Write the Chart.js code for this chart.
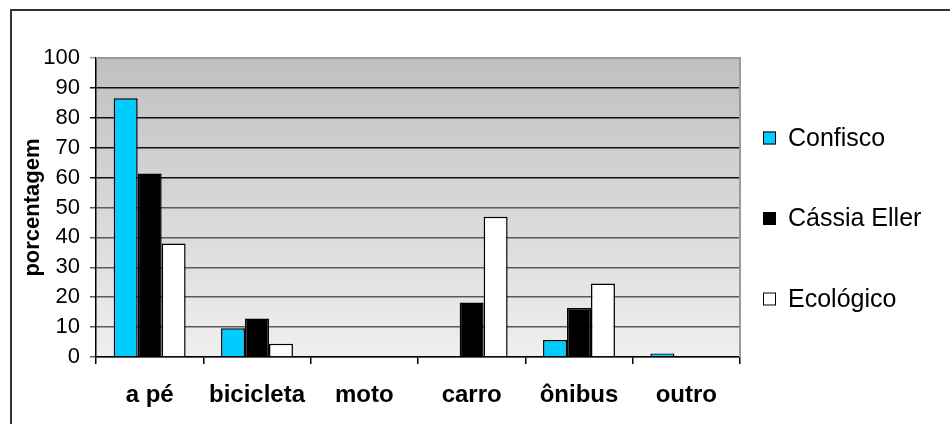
<!DOCTYPE html>
<html>
<head>
<meta charset="utf-8">
<script src="https://cdn.jsdelivr.net/npm/chart.js@4/dist/chart.umd.min.js"></script>
<style>
  html, body { margin: 0; padding: 0; background: #ffffff; }
  #wrap { width: 950px; height: 424px; }
</style>
</head>
<body>
<div id="wrap"><canvas id="c" width="950" height="424"></canvas></div>
<script>
// Modo de deslocamento por bairro (%)
const categories = ['a pé', 'bicicleta', 'moto', 'carro', 'ônibus', 'outro'];
const confisco    = [86.5, 9.6, 0, 0, 5.7, 1.2];
const cassiaEller = [61.4, 12.9, 0, 18.2, 16.4, 0];
const ecologico   = [38.0, 4.4, 0, 46.9, 24.6, 0];
const seriesNames = ['Confisco', 'Cássia Eller', 'Ecológico'];
const yMin = 0, yMax = 100, yStep = 10;
const yTitle = 'porcentagem';

const FONT = '"Liberation Sans", Arial, Helvetica, sans-serif';

// Background, outer frame and plot-area gradient
const backdrop = {
  id: 'backdrop',
  beforeDraw(chart) {
    const { ctx, chartArea: a } = chart;
    ctx.save();
    ctx.fillStyle = '#ffffff';
    ctx.fillRect(0, 0, chart.width, chart.height);
    const g = ctx.createLinearGradient(0, a.top, 0, a.bottom);
    g.addColorStop(0, '#c0c0c0');
    g.addColorStop(1, '#efefef');
    ctx.fillStyle = g;
    ctx.fillRect(a.left, a.top, a.right - a.left, a.bottom - a.top);
    // frame (top and left edges)
    ctx.strokeStyle = '#333333';
    ctx.lineWidth = 2;
    ctx.beginPath();
    ctx.moveTo(chart.width, 10);
    ctx.lineTo(11, 10);
    ctx.lineTo(11, chart.height);
    ctx.stroke();
    ctx.restore();
  },
  afterDatasetsDraw(chart) {
    const { ctx, chartArea: a } = chart;
    ctx.save();
    ctx.strokeStyle = '#9a9a9a';
    ctx.lineWidth = 2;
    ctx.beginPath();
    ctx.moveTo(a.left, a.top);
    ctx.lineTo(a.right, a.top);
    ctx.lineTo(a.right, a.bottom);
    ctx.stroke();
    ctx.restore();
  }
};

// Legend drawn from the datasets
const sideLegend = {
  id: 'sideLegend',
  afterDraw(chart) {
    const { ctx } = chart;
    ctx.save();
    ctx.font = '25px ' + FONT;
    ctx.textBaseline = 'middle';
    ctx.textAlign = 'left';
    chart.data.datasets.forEach((ds, i) => {
      const y = 138 + i * 80.5;
      ctx.fillStyle = ds.backgroundColor;
      ctx.fillRect(763, y - 6.5, 13, 13);
      ctx.strokeStyle = '#000000';
      ctx.lineWidth = 1;
      ctx.strokeRect(763.5, y - 6, 12, 12);
      ctx.fillStyle = '#000000';
      ctx.fillText(ds.label, 788, y + 1);
    });
    ctx.restore();
  }
};

const colors = ['#00ccff', '#000000', '#ffffff'];
const series = [confisco, cassiaEller, ecologico];

new Chart(document.getElementById('c'), {
  type: 'bar',
  data: {
    labels: categories,
    datasets: series.map((values, i) => ({
      label: seriesNames[i],
      data: values,
      backgroundColor: colors[i],
      borderColor: '#000000',
      borderWidth: 1.5,
      borderSkipped: 'start',
      barPercentage: 1.0,
      categoryPercentage: 0.67
    }))
  },
  options: {
    responsive: false,
    animation: false,
    devicePixelRatio: 1,
    layout: { padding: { top: 58, right: 210, left: 0, bottom: 0 } },
    plugins: {
      legend: { display: false },
      tooltip: { enabled: false }
    },
    scales: {
      x: {
        grid: {
          offset: true,
          drawOnChartArea: false,
          tickLength: 7,
          color: '#000000',
          lineWidth: 1.5
        },
        border: { color: '#000000', width: 1.5 },
        ticks: {
          color: '#000000',
          font: { family: FONT, size: 24, weight: 'bold' },
          padding: 17,
          maxRotation: 0,
          autoSkip: false
        },
        afterFit(scale) { scale.height = 67; }
      },
      y: {
        min: yMin,
        max: yMax,
        ticks: {
          stepSize: yStep,
          color: '#000000',
          font: { family: FONT, size: 22 },
          padding: 10,
          autoSkip: false
        },
        grid: {
          tickLength: 6,
          lineWidth: 1.5,
          color: (c) => {
            const v = c.tick ? c.tick.value : 0;
            if (v >= 100) return '#9a9a9a';
            return v >= 60 ? '#111111' : '#5a5a5a';
          }
        },
        border: { color: '#000000', width: 1.5 },
        title: {
          display: true,
          text: yTitle,
          color: '#000000',
          font: { family: FONT, size: 22, weight: 'bold' },
          padding: { top: 20, bottom: 0 }
        },
        afterFit(scale) { scale.width = 96; }
      }
    }
  },
  plugins: [backdrop, sideLegend]
});
</script>
</body>
</html>
